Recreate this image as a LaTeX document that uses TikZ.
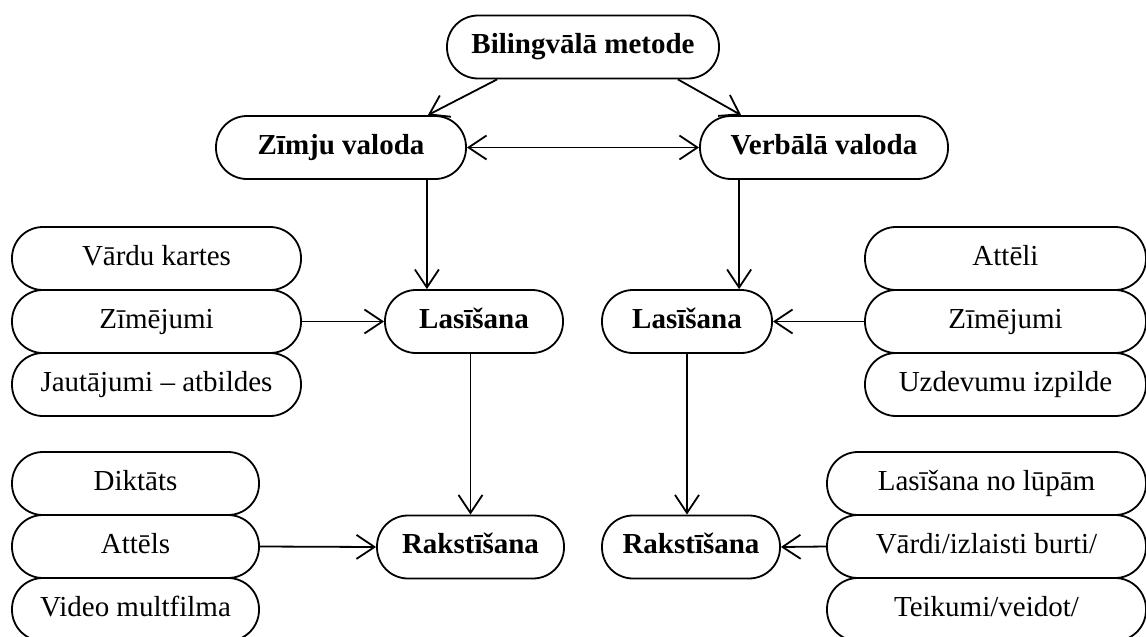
\documentclass[tikz,border=0pt]{standalone}
\usepackage{fontspec}
\setmainfont{Liberation Serif}
\usetikzlibrary{arrows.meta,calc}
\begin{document}
\begin{tikzpicture}[x=0.5pt,y=-0.5pt,
  pill/.style={draw, line width=0.9pt, rounded corners=15.5pt, minimum height=31.5pt,
    inner sep=0pt, text height=10pt, text depth=3.2pt,
    font=\fontsize{14.5pt}{17pt}\selectfont},
  head/.style={pill, font=\fontsize{14.5pt}{17pt}\selectfont\bfseries},
  link/.style={line width=0.9pt, -{Straight Barb[length=9pt,width=12pt]}},
  both/.style={line width=0.9pt, {Straight Barb[length=9pt,width=12pt]}-{Straight Barb[length=9pt,width=12pt]}}]
\clip (0,0) rectangle (1146,637);
\fill[white] (0,0) rectangle (1146,637);

% main chain
\node[head, minimum width=136pt] (bm) at (583,47) {Bilingvālā metode};
\node[head, minimum width=125pt] (zv) at (341,147.5) {Zīmju valoda};
\node[head, minimum width=124pt] (vv) at (824,147.5) {Verbālā valoda};
\node[head, minimum width=89pt] (lasL) at (474,321.5) {Lasīšana};
\node[head, minimum width=85pt] (lasR) at (687,321.5) {Lasīšana};
\node[head, minimum width=93.5pt] (rakL) at (470.5,547) {Rakstīšana};
\node[head, minimum width=89pt] (rakR) at (691,547) {Rakstīšana};

% left reading aids
\node[pill, minimum width=144.5pt] (l1) at (156.5,258.5) {Vārdu kartes};
\node[pill, minimum width=144.5pt] (l2) at (156.5,321.5) {Zīmējumi};
\node[pill, minimum width=144.5pt] (l3) at (156.5,384.5) {Jautājumi – atbildes};

% right reading aids
\node[pill, minimum width=140.5pt] (r1) at (1005.5,258.5) {Attēli};
\node[pill, minimum width=140.5pt] (r2) at (1005.5,321.5) {Zīmējumi};
\node[pill, minimum width=140.5pt] (r3) at (1005.5,384.5) {Uzdevumu izpilde};

% left writing aids
\node[pill, minimum width=123.5pt] (w1) at (135.5,483.5) {Diktāts};
\node[pill, minimum width=123.5pt] (w2) at (135.5,546.5) {Attēls};
\node[pill, minimum width=123.5pt] (w3) at (135.5,609.5) {Video multfilma};

% right writing aids
\node[pill, minimum width=159.5pt] (v1) at (986.5,483.5) {Lasīšana no lūpām};
\node[pill, minimum width=159.5pt] (v2) at (986.5,546.5) {Vārdi/izlaisti burti/};
\node[pill, minimum width=159.5pt] (v3) at (986.5,609.5) {Teikumi/veidot/};

% connectors
\draw[link] ($(bm.south west)+(51,0)$) -- ($(zv.north east)+(-39,0)$);
\draw[link] ($(bm.south east)+(-42,0)$) -- ($(vv.north west)+(42,0)$);
\draw[both] (zv.east) -- (vv.west);
\draw[link] ($(zv.south east)+(-40,0)$) coordinate (a) -- (a |- lasL.north);
\draw[link] ($(vv.south west)+(40,0)$) coordinate (b) -- (b |- lasR.north);
\draw[link] (rakL.north |- lasL.south) -- (rakL.north);
\draw[link] (lasR.south) -- (lasR.south |- rakR.north);
\draw[link] (l2.east) -- (lasL.west);
\draw[link] (r2.west) -- (lasR.east);
\draw[link] (w2.east) -- (rakL.west);
\draw[link] (v2.west) -- (rakR.east);
\end{tikzpicture}
\end{document}
